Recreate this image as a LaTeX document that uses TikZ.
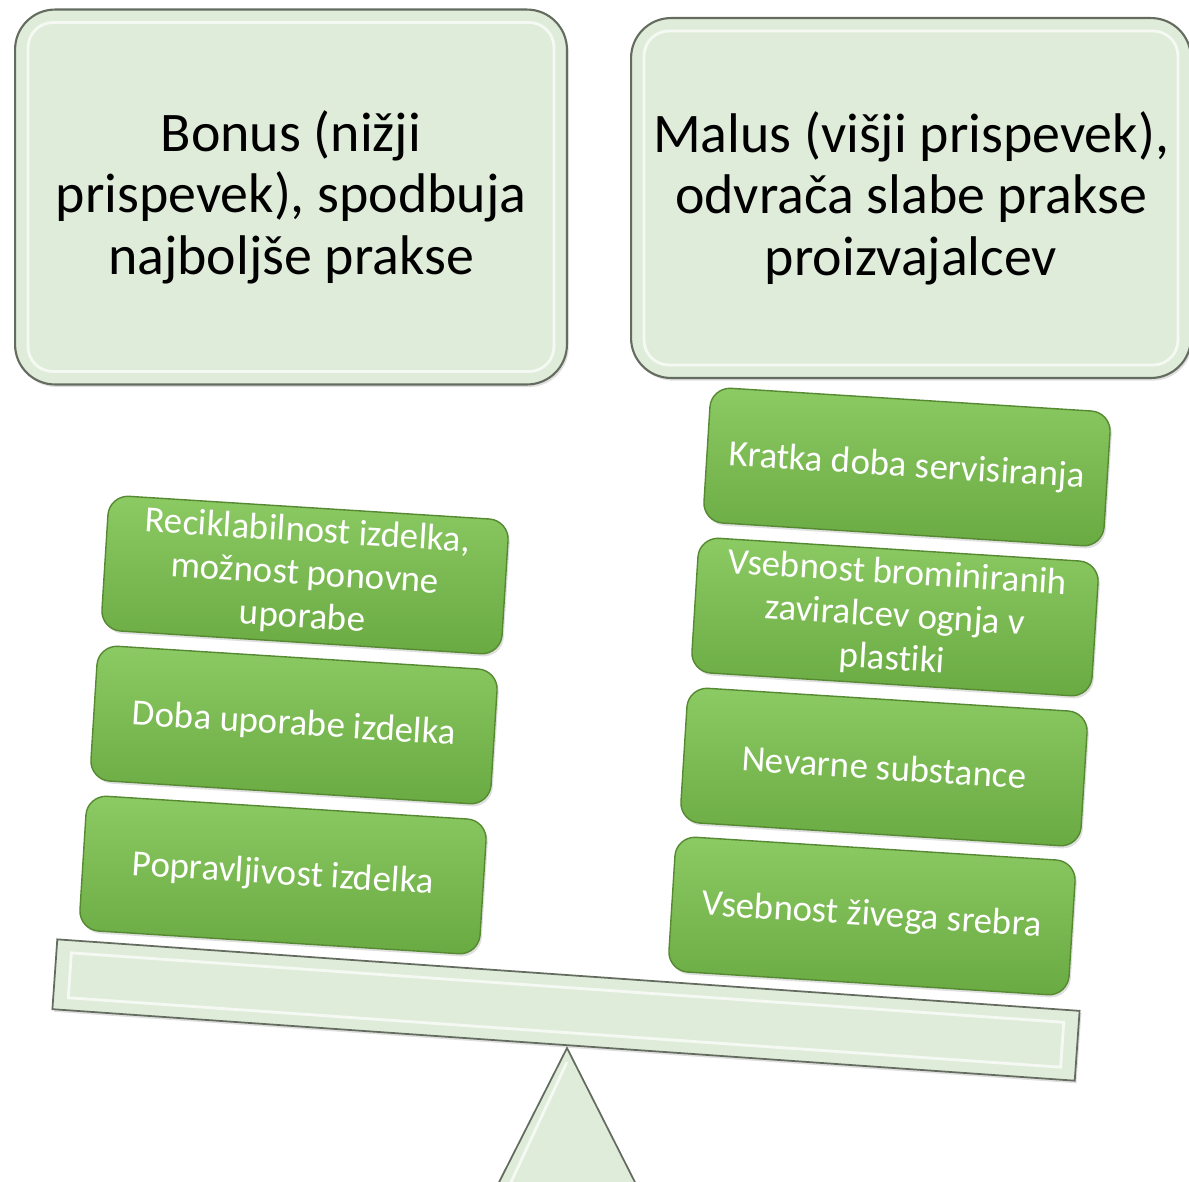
\documentclass[tikz,border=0pt]{standalone}
\usepackage{fontspec}
\setmainfont[Ligatures=NoCommon]{Carlito}
\usetikzlibrary{shadows,calc}

\definecolor{palegreen}{RGB}{224,236,218}
\definecolor{paleedge}{RGB}{100,108,96}
\definecolor{leaftop}{RGB}{140,202,100}
\definecolor{leafbot}{RGB}{106,170,66}
\definecolor{leafedge}{RGB}{86,138,50}

\begin{document}
\begin{tikzpicture}[x=0.02cm,y=-0.02cm]

\tikzstyle{headbox}  = [
  rectangle,
  rounded corners=0.8cm,
  draw=paleedge,
  line width=1.2pt,
  fill=palegreen,
  align=center,
  drop shadow={opacity=0.25,shadow xshift=1pt,shadow yshift=-1.5pt},
  font=\fontsize{31.8}{35}\selectfont]
\tikzstyle{itembox}  = [
  rectangle,
  rounded corners=0.4cm,
  draw=leafedge,
  line width=0.8pt,
  top color=leaftop,
  bottom color=leafbot,
  minimum width=8.02cm,
  minimum height=2.7cm,
  rotate=-3.6,
  align=center,
  text=white,
  drop shadow={opacity=0.25,shadow xshift=1pt,shadow yshift=-1.5pt},
  font=\fontsize{21}{24.5}\selectfont]
\tikzstyle{bevel}  = [white,line width=1.6pt,opacity=0.7]
\tikzstyle{fulcrum}  = [draw=paleedge,line width=1pt,fill=palegreen]

\useasboundingbox (0,0) rectangle (1189,1181);
\clip (0,0) rectangle (1189,1181);

% top boxes
\node (bonus)[headbox,minimum width=11.04cm,minimum height=7.5cm] at (291,197) {Bonus (nižji\\prispevek), spodbuja\\najboljše prakse};
\node (malus)[headbox,minimum width=11.2cm,minimum height=7.2cm] at (911,198) {Malus (višji prispevek),\\odvrača slabe prakse\\proizvajalcev};
\draw[bevel,rounded corners=0.5cm] ($(bonus.north west)+(14,14)$) rectangle ($(bonus.south east)+(-14,-14)$);
\draw[bevel,rounded corners=0.5cm] ($(malus.north west)+(14,14)$) rectangle ($(malus.south east)+(-14,-14)$);

% fulcrum and beam
\draw[fulcrum] (567,1048) coordinate (pivot) -- (490,1200) -- (644,1200) -- cycle;
\draw[bevel] (pivot) ++(0,14) -- (505,1195);
\node (beam)[fulcrum,rectangle,minimum width=20.5cm,minimum height=1.4cm,rotate=-4.0,
  drop shadow={opacity=0.25,shadow xshift=1pt,shadow yshift=-1.5pt}] at (566,1010) {};
\node[bevel,draw,rectangle,minimum width=19.9cm,minimum height=0.9cm,rotate=-4.0] at (566,1010) {};

% left pan
\node (recikl)[itembox] at (305,575) {Reciklabilnost izdelka,\\možnost ponovne\\uporabe};
\node (doba)[itembox] at (294,725) {Doba uporabe izdelka};
\node (poprav)[itembox] at (283,875) {Popravljivost izdelka};

% right pan
\node (servis)[itembox] at (907,467) {Kratka doba servisiranja};
\node (brom)[itembox] at (895,617) {Vsebnost brominiranih\\zaviralcev ognja v\\plastiki};
\node (nevarne)[itembox] at (884,767) {Nevarne substance};
\node (zivo)[itembox] at (872,916) {Vsebnost živega srebra};

\end{tikzpicture}
\end{document}
